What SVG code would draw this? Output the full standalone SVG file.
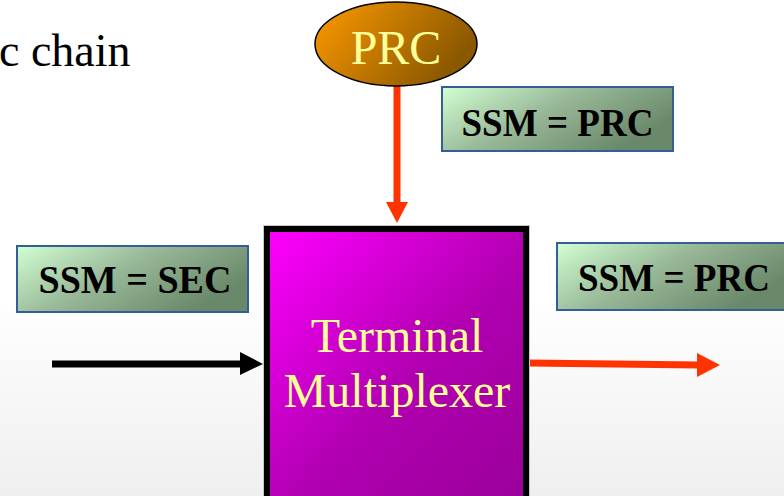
<svg xmlns="http://www.w3.org/2000/svg" width="784" height="496" viewBox="0 0 784 496">
<defs>
<linearGradient id="bg" x1="0" y1="0" x2="0" y2="1">
<stop offset="0" stop-color="#ffffff"/>
<stop offset="0.6" stop-color="#ffffff"/>
<stop offset="1" stop-color="#efefef"/>
</linearGradient>
<linearGradient id="gOrange" x1="0" y1="0" x2="1" y2="0.4">
<stop offset="0" stop-color="#ff9a00"/>
<stop offset="1" stop-color="#8a5800"/>
</linearGradient>
<linearGradient id="gGreen" x1="0" y1="0" x2="1" y2="0.5">
<stop offset="0" stop-color="#d2ffd2"/>
<stop offset="0.5" stop-color="#98b898"/>
<stop offset="1" stop-color="#6a896a"/>
</linearGradient>
<linearGradient id="gMag" x1="0" y1="0" x2="1" y2="1">
<stop offset="0" stop-color="#ff00ff"/>
<stop offset="0.55" stop-color="#b000b0"/>
<stop offset="1" stop-color="#9a009a"/>
</linearGradient>
<style>
.lbl{fill:url(#gGreen);stroke:#335e96;stroke-width:2}
.lt{font-family:"Liberation Serif","Times New Roman",serif;font-weight:bold;font-size:41px;fill:#000;text-anchor:middle}
.yt{font-family:"Liberation Serif","Times New Roman",serif;font-size:48px;fill:#ffff99;text-anchor:middle}
.red{stroke:#ff3300;stroke-width:7;fill:none}
.blk{stroke:#000;stroke-width:7;fill:none}
</style>
</defs>
<rect x="0" y="0" width="784" height="496" fill="url(#bg)"/>
<text x="-1" y="66" font-family="Liberation Serif,Times New Roman,serif" font-size="46" fill="#000">c chain</text>

<g id="connectors">
<line class="red" x1="397" y1="86" x2="397" y2="204"/>
<polygon points="386,202 408,202 397,223" fill="#ff3300"/>
<line class="blk" x1="52" y1="364" x2="242" y2="364"/>
<polygon points="240,352 263,364 240,375" fill="#000"/>
<line class="red" x1="528" y1="363" x2="699" y2="365"/>
<polygon points="697,353 720,365 697,377" fill="#ff3300"/>
</g>

<g id="prc">
<ellipse cx="396" cy="44" rx="81" ry="42" fill="url(#gOrange)" stroke="#000" stroke-width="1.5"/>
<text class="yt" x="396" y="64">PRC</text>
</g>

<g id="label-top">
<rect class="lbl" x="442" y="87" width="231" height="64"/>
<text class="lt" x="557.5" y="136" textLength="192" lengthAdjust="spacingAndGlyphs">SSM = PRC</text>
</g>

<g id="label-left">
<rect class="lbl" x="17" y="246" width="231" height="66"/>
<text class="lt" x="135" y="293" textLength="193" lengthAdjust="spacingAndGlyphs">SSM = SEC</text>
</g>

<g id="label-right">
<rect class="lbl" x="557" y="243" width="231" height="67"/>
<text class="lt" x="674" y="291" textLength="192" lengthAdjust="spacingAndGlyphs">SSM = PRC</text>
</g>

<g id="mux">
<rect x="264" y="226" width="265" height="280" fill="none" stroke="#c8c8c8" stroke-width="2"/>
<rect x="267" y="229" width="259" height="275" fill="url(#gMag)" stroke="#000" stroke-width="6"/>
<text class="yt" x="397" y="352">Terminal</text>
<text class="yt" x="397" y="407">Multiplexer</text>
</g>
</svg>
